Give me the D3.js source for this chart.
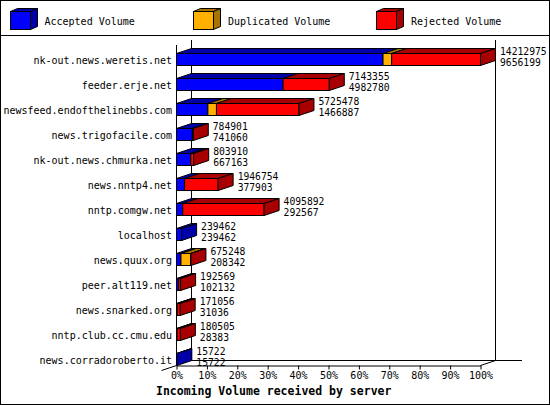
<!DOCTYPE html>
<html><head><meta charset="utf-8">
<script src="https://cdn.jsdelivr.net/npm/d3@7"></script>
<style>
html,body{margin:0;padding:0;background:#fff;}
svg{display:block;}
text{font-family:"DejaVu Sans Mono",monospace;font-size:10px;fill:#000;}
</style></head><body>
<svg id="c" width="550" height="405"></svg>
<script>
// ---- data ----
const servers = ["nk-out.news.weretis.net","feeder.erje.net","newsfeed.endofthelinebbs.com",
  "news.trigofacile.com","nk-out.news.chmurka.net","news.nntp4.net","nntp.comgw.net",
  "localhost","news.quux.org","peer.alt119.net","news.snarked.org","nntp.club.cc.cmu.edu",
  "news.corradoroberto.it"];
const totalVolume = [14212975,7143355,5725478,784901,803910,1946754,4095892,239462,675248,192569,171056,180505,15722];
const acceptedVolume = [9656199,4982780,1466887,741060,667163,377903,292567,239462,208342,102132,31036,28383,15722];
const duplicatedVolume = [400000,0,401000,0,0,0,0,0,450000,0,0,0,0];
const rejectedVolume = [4156776,2160575,3857591,43841,136747,1568851,3803325,0,16906,90437,140020,152122,0];
const seriesNames = ["Accepted Volume","Duplicated Volume","Rejected Volume"];
const tickValues = [0,10,20,30,40,50,60,70,80,90,100];
const axisTitle = "Incoming Volume received by server";

// ---- styles ----
const frontColors = ["#0000ff","#ffb000","#ff0000"];
const darkColors  = ["#0000a8","#a87400","#a80000"];
const DX = 15, DY = 5;

const svg = d3.select("#c");
svg.append("rect").attr("x",0.5).attr("y",0.5).attr("width",549).attr("height",404)
  .attr("fill","#fff").attr("stroke","#000");
svg.append("line").attr("x1",0).attr("x2",550).attr("y1",35.5).attr("y2",35.5).attr("stroke","#000");

// ---- legend ----
const legX = [10.5,193.5,376.5], legTextX = [44.5,228,411];
const leg = svg.append("g").selectAll("g").data(seriesNames).join("g");
leg.each(function(name,i){
  const g = d3.select(this), x0 = legX[i], y0 = 11.5, w = 20, h = 18, dx = 7, dy = 3;
  g.append("polygon").attr("points",[[x0,y0],[x0+dx,y0-dy],[x0+w+dx,y0-dy],[x0+w,y0]].join(" "))
    .attr("fill",darkColors[i]).attr("stroke","#000");
  g.append("polygon").attr("points",[[x0+w,y0],[x0+w+dx,y0-dy],[x0+w+dx,y0+h-dy],[x0+w,y0+h]].join(" "))
    .attr("fill",darkColors[i]).attr("stroke","#000");
  g.append("rect").attr("x",x0).attr("y",y0).attr("width",w).attr("height",h)
    .attr("fill",frontColors[i]).attr("stroke","#000");
  g.append("text").attr("x",legTextX[i]).attr("y",25).text(name);
});

// ---- scales ----
const maxTotal = d3.max(totalVolume);
const x = d3.scaleLinear().domain([0,100]).range([176.5,480.5]);
const y = d3.scalePoint().domain(servers).range([59.5,359.5]);
const pct = v => v / maxTotal * 100;

// ---- walls / floor ----
const frame = svg.append("g").attr("stroke","#000").attr("fill","none");
const yTop = 40, yBackFloor = 360.5, yFrontFloor = 365.5;
frame.append("line").attr("x1",x(0)+DX).attr("x2",x(0)+DX).attr("y1",yTop).attr("y2",yBackFloor);
frame.append("line").attr("x1",x(100)+DX).attr("x2",x(100)+DX).attr("y1",yTop).attr("y2",yBackFloor);
frame.append("line").attr("x1",x(0)+DX).attr("x2",522).attr("y1",yBackFloor).attr("y2",yBackFloor);
frame.append("line").attr("x1",x(0)).attr("x2",x(0)).attr("y1",yTop+DY).attr("y2",yFrontFloor);
frame.append("line").attr("x1",x(100)).attr("x2",x(100)+DX).attr("y1",yFrontFloor).attr("y2",yBackFloor);
frame.append("line").attr("x1",x(0)-DX).attr("x2",x(0)).attr("y1",yFrontFloor+DY).attr("y2",yFrontFloor);

// ---- axis ----
const axis = svg.append("g").attr("transform",`translate(0,${yFrontFloor})`)
  .call(d3.axisBottom(x).tickValues(tickValues).tickFormat(d=>d+"%").tickSize(4).tickSizeOuter(0).tickPadding(2));
axis.attr("font-family",null).attr("font-size",null);
axis.selectAll("line").attr("stroke","#000");
axis.select(".domain").attr("stroke","#000");
axis.selectAll("text").attr("fill","#000").style("font-size","10px");

svg.append("text").attr("x",156).attr("y",395).style("font-weight","bold").style("font-size","11.5px").text(axisTitle);

// ---- y labels ----
svg.append("g").selectAll("text").data(servers).join("text")
  .attr("x",172).attr("y",d=>y(d)+4).attr("text-anchor","end").text(d=>d);

// ---- bars ----
const rows = servers.map((s,i)=>({name:s, segs:[acceptedVolume[i],duplicatedVolume[i],rejectedVolume[i]],
  total:totalVolume[i], acc:acceptedVolume[i]}));
const bars = svg.append("g").selectAll("g").data(rows).join("g");
bars.each(function(r){
  const g = d3.select(this), cy = y(r.name), top = cy-6, bot = cy+6;
  let cum = 0, last = 0;
  r.segs.forEach((v,k)=>{
    if (v <= 0) return;
    const a = x(pct(cum)), b = x(pct(cum+v));
    g.append("polygon").attr("points",[[a,top],[a+DX,top-DY],[b+DX,top-DY],[b,top]].join(" "))
      .attr("fill",darkColors[k]).attr("stroke","#000");
    g.append("rect").attr("x",a).attr("y",top).attr("width",b-a).attr("height",bot-top)
      .attr("fill",frontColors[k]).attr("stroke","#000");
    cum += v; last = k;
  });
  const e = x(pct(cum));
  g.append("polygon").attr("points",[[e,top],[e+DX,top-DY],[e+DX,bot-DY],[e,bot]].join(" "))
    .attr("fill",darkColors[last]).attr("stroke","#000");
  const tx = x(pct(r.total)) + DX + 4.5;
  g.append("text").attr("x",tx).attr("y",cy-5).style("font-size","9.7px").text(r.total);
  g.append("text").attr("x",tx).attr("y",cy+6).style("font-size","9.7px").text(r.acc);
});
</script>
</body></html>
